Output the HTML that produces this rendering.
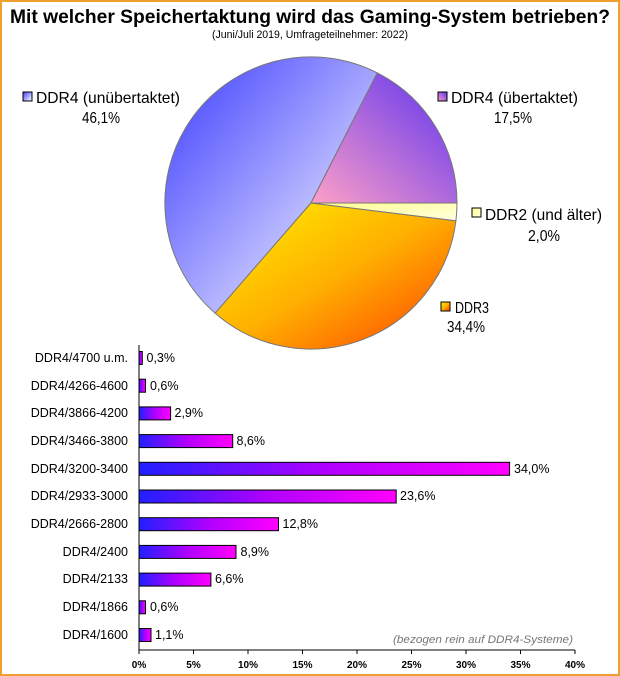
<!DOCTYPE html>
<html><head><meta charset="utf-8"><style>
html,body{margin:0;padding:0;background:#fff}
svg{display:block}
text{font-family:"Liberation Sans",Arial,sans-serif}
</style></head><body>
<svg width="620" height="676" viewBox="0 0 620 676" xmlns="http://www.w3.org/2000/svg">
<defs>
<linearGradient id="gU" x1="0" y1="0" x2="1" y2="1"><stop offset="0" stop-color="#3a3aff"/><stop offset="0.8" stop-color="#dcdcff"/><stop offset="1" stop-color="#f0f0ff"/></linearGradient>
<linearGradient id="gO" x1="1" y1="0" x2="0" y2="1"><stop offset="0" stop-color="#5a30f0"/><stop offset="1" stop-color="#ffa0c8"/></linearGradient>
<linearGradient id="g3" x1="0" y1="0" x2="1" y2="1"><stop offset="0" stop-color="#fff000"/><stop offset="0.5" stop-color="#ffb000"/><stop offset="1" stop-color="#ff4000"/></linearGradient>
<linearGradient id="g2" x1="0" y1="0" x2="1" y2="1"><stop offset="0" stop-color="#ffff90"/><stop offset="1" stop-color="#ffffe0"/></linearGradient>
<linearGradient id="gb" x1="0" y1="0" x2="1" y2="0"><stop offset="0" stop-color="#2020ff"/><stop offset="0.5" stop-color="#b000ff"/><stop offset="1" stop-color="#ff00ff"/></linearGradient>
</defs>
<rect x="1" y="1" width="618" height="674" fill="#fff" stroke="#f0a030" stroke-width="2"/>
<text x="310" y="23" text-anchor="middle" font-size="19" font-weight="bold" textLength="600" lengthAdjust="spacingAndGlyphs">Mit welcher Speichertaktung wird das Gaming-System betrieben?</text>
<text x="310" y="38" text-anchor="middle" font-size="11" textLength="196" lengthAdjust="spacingAndGlyphs">(Juni/Juli 2019, Umfrageteilnehmer: 2022)</text>

<g stroke="#777" stroke-width="1">
<path d="M311,203 L377.3,72.9 A146,146 0 0 0 215.2,313.2 Z" fill="url(#gU)"/>
<path d="M311,203 L457,203 A146,146 0 0 0 377.3,72.9 Z" fill="url(#gO)"/>
<path d="M311,203 L215.2,313.2 A146,146 0 0 0 455.9,220.8 Z" fill="url(#g3)"/>
<path d="M311,203 L455.9,220.8 A146,146 0 0 0 457,203 Z" fill="url(#g2)"/>
</g>

<g font-size="16">
<rect x="23" y="92" width="9" height="9" fill="url(#gU)" stroke="#000"/>
<text x="36" y="103" textLength="144" lengthAdjust="spacingAndGlyphs">DDR4 (unübertaktet)</text>
<text x="101" y="123" text-anchor="middle" textLength="38" lengthAdjust="spacingAndGlyphs">46,1%</text>
<rect x="438" y="92" width="9" height="9" fill="url(#gO)" stroke="#000"/>
<text x="451" y="103" textLength="127" lengthAdjust="spacingAndGlyphs">DDR4 (übertaktet)</text>
<text x="513" y="123" text-anchor="middle" textLength="38" lengthAdjust="spacingAndGlyphs">17,5%</text>
<rect x="472" y="208" width="9" height="9" fill="url(#g2)" stroke="#000"/>
<text x="485" y="220" textLength="117" lengthAdjust="spacingAndGlyphs">DDR2 (und älter)</text>
<text x="544" y="241" text-anchor="middle" textLength="32" lengthAdjust="spacingAndGlyphs">2,0%</text>
<rect x="441" y="302" width="9" height="9" fill="url(#g3)" stroke="#000"/>
<text x="455" y="313" textLength="34" lengthAdjust="spacingAndGlyphs">DDR3</text>
<text x="466" y="332" text-anchor="middle" textLength="38" lengthAdjust="spacingAndGlyphs">34,4%</text>
</g>

<g font-size="12.5">
<line x1="139" y1="345" x2="139" y2="650" stroke="#000"/>
<line x1="139" y1="650" x2="575" y2="650" stroke="#000"/>
<g stroke="#000">
<line x1="139" y1="650" x2="139" y2="654"/><line x1="193.5" y1="650" x2="193.5" y2="654"/><line x1="248" y1="650" x2="248" y2="654"/><line x1="302.5" y1="650" x2="302.5" y2="654"/><line x1="357" y1="650" x2="357" y2="654"/><line x1="411.5" y1="650" x2="411.5" y2="654"/><line x1="466" y1="650" x2="466" y2="654"/><line x1="520.5" y1="650" x2="520.5" y2="654"/><line x1="575" y1="650" x2="575" y2="654"/>
</g>
<g font-size="10" text-anchor="middle" font-weight="bold">
<text x="139" y="668">0%</text><text x="193.5" y="668">5%</text><text x="248" y="668">10%</text><text x="302.5" y="668">15%</text><text x="357" y="668">20%</text><text x="411.5" y="668">25%</text><text x="466" y="668">30%</text><text x="520.5" y="668">35%</text><text x="575" y="668">40%</text>
</g>
<g stroke="#000" fill="url(#gb)">
<rect x="139" y="351.5" width="3.3" height="13"/>
<rect x="139" y="379.2" width="6.5" height="13"/>
<rect x="139" y="406.9" width="31.6" height="13"/>
<rect x="139" y="434.6" width="93.7" height="13"/>
<rect x="139" y="462.3" width="370.6" height="13"/>
<rect x="139" y="490" width="257.2" height="13"/>
<rect x="139" y="517.7" width="139.5" height="13"/>
<rect x="139" y="545.4" width="97" height="13"/>
<rect x="139" y="573.1" width="71.9" height="13"/>
<rect x="139" y="600.8" width="6.5" height="13"/>
<rect x="139" y="628.5" width="12" height="13"/>
</g>
<g text-anchor="end">
<text x="128" y="362">DDR4/4700 u.m.</text>
<text x="128" y="390">DDR4/4266-4600</text>
<text x="128" y="417">DDR4/3866-4200</text>
<text x="128" y="445">DDR4/3466-3800</text>
<text x="128" y="473">DDR4/3200-3400</text>
<text x="128" y="500">DDR4/2933-3000</text>
<text x="128" y="528">DDR4/2666-2800</text>
<text x="128" y="556">DDR4/2400</text>
<text x="128" y="583">DDR4/2133</text>
<text x="128" y="611">DDR4/1866</text>
<text x="128" y="639">DDR4/1600</text>
</g>
<text x="146.5" y="362">0,3%</text>
<text x="150" y="390">0,6%</text>
<text x="174.5" y="417">2,9%</text>
<text x="236.5" y="445">8,6%</text>
<text x="514" y="473">34,0%</text>
<text x="400" y="500">23,6%</text>
<text x="282.5" y="528">12,8%</text>
<text x="240.5" y="556">8,9%</text>
<text x="215" y="583">6,6%</text>
<text x="150" y="611">0,6%</text>
<text x="155" y="639">1,1%</text>
<text x="573" y="643" text-anchor="end" font-size="11" font-style="italic" fill="#777" textLength="180" lengthAdjust="spacingAndGlyphs">(bezogen rein auf DDR4-Systeme)</text>
</g>
</svg>
</body></html>
